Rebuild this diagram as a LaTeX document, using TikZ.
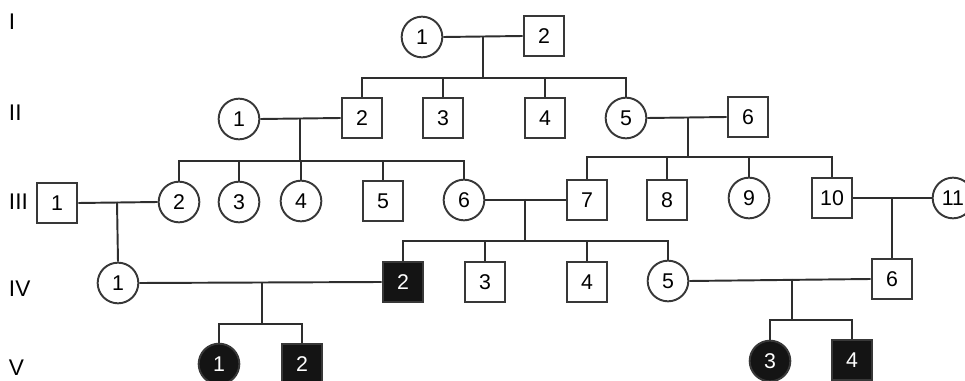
\documentclass[tikz,border=0pt]{standalone}
\usepackage{fontspec}
\setmainfont{Liberation Sans}
\begin{document}
\begin{tikzpicture}[x=0.75pt,y=-0.75pt,
  line width=1.45pt,
  lnk/.style={draw=black!82},
  fem/.style={circle,draw=black!78,fill=white,minimum size=30.5pt,inner sep=0pt,font=\fontsize{16}{18}\selectfont},
  mal/.style={rectangle,draw=black!78,fill=white,minimum size=30.5pt,inner sep=0pt,font=\fontsize{16}{18}\selectfont},
  affected/.style={fill=black!92,text=white},
  gen/.style={anchor=west,inner sep=0pt,font=\fontsize{17}{19}\selectfont}]
\useasboundingbox (0,0) rectangle (965,381);
\clip (0,0) rectangle (965,381);
% generation labels
\node[gen] (gI) at (8,22) {I};
\node[gen] (gII) at (8,113) {II};
\node[gen] (gIII) at (8,202) {III};
\node[gen] (gIV) at (8,289) {IV};
\node[gen] (gV) at (8,368) {V};
% coordinates of descent lines
\coordinate (m1) at (483,36);  \coordinate (d1) at (483,78);
\coordinate (m2) at (300,119); \coordinate (d2) at (300,161);
\coordinate (m3) at (688,117); \coordinate (d3) at (688,157);
\coordinate (m4) at (117,202);
\coordinate (m5) at (525,199); \coordinate (d5) at (525,241);
\coordinate (m6) at (892,198);
\coordinate (m7) at (262,283); \coordinate (d7) at (262,324);
\coordinate (m8) at (792,279); \coordinate (d8) at (792,320);
% nodes
\node[fem] (I1) at (422,37) {1};
\node[mal] (I2) at (544,36) {2};
\node[fem] (II1) at (239,119) {1};
\node[mal] (II2) at (362,118) {2};
\node[mal] (II3) at (443,118) {3};
\node[mal] (II4) at (545,118) {4};
\node[fem] (II5) at (626,118) {5};
\node[mal] (II6) at (748,117) {6};
\node[mal] (III1) at (57,203) {1};
\node[fem] (III2) at (179,202) {2};
\node[fem] (III3) at (239,202) {3};
\node[fem] (III4) at (301,201) {4};
\node[mal] (III5) at (383,201) {5};
\node[fem] (III6) at (464,200) {6};
\node[mal] (III7) at (587,200) {7};
\node[mal] (III8) at (667,200) {8};
\node[fem] (III9) at (749,198) {9};
\node[mal] (III10) at (832,198) {10};
\node[fem] (III11) at (953,198) {11};
\node[fem] (IV1) at (118,283) {1};
\node[mal,affected] (IV2) at (403,282) {2};
\node[mal] (IV3) at (485,282) {3};
\node[mal] (IV4) at (587,282) {4};
\node[fem] (IV5) at (668,281) {5};
\node[mal] (IV6) at (892,279) {6};
\node[fem,affected] (V1) at (219,364) {1};
\node[mal,affected] (V2) at (302,364) {2};
\node[fem,affected] (V3) at (770,361) {3};
\node[mal,affected] (V4) at (852,360) {4};
% connectors
\begin{scope}[lnk]
% I
\draw (I1.east) -- (I2.west);
\draw (m1) -- (d1);
\draw (II2.north) |- (d1) -| (II5.north);
\draw (II3.north) -- (II3.north |- d1);
\draw (II4.north) -- (II4.north |- d1);
% II-1 x II-2
\draw (II1.east) -- (II2.west);
\draw (m2) -- (d2);
\draw (III2.north) |- (d2) -| (III6.north);
\draw (III3.north) -- (III3.north |- d2);
\draw (III4.north) -- (III4.north |- d2);
\draw (III5.north) -- (III5.north |- d2);
% II-5 x II-6
\draw (II5.east) -- (II6.west);
\draw (m3) -- (d3);
\draw (III7.north) |- (d3) -| (III10.north);
\draw (III8.north) -- (III8.north |- d3);
\draw (III9.north) -- (III9.north |- d3);
% III-1 x III-2
\draw (III1.east) -- (III2.west);
\draw (m4) -- (IV1.north);
% III-6 x III-7
\draw (III6.east) -- (III7.west);
\draw (m5) -- (d5);
\draw (IV2.north) |- (d5) -| (IV5.north);
\draw (IV3.north) -- (IV3.north |- d5);
\draw (IV4.north) -- (IV4.north |- d5);
% III-10 x III-11
\draw (III10.east) -- (III11.west);
\draw (m6) -- (IV6.north);
% IV-1 x IV-2
\draw (IV1.east) -- (IV2.west);
\draw (m7) -- (d7);
\draw (V1.north) |- (d7) -| (V2.north);
% IV-5 x IV-6
\draw (IV5.east) -- (IV6.west);
\draw (m8) -- (d8);
\draw (V3.north) |- (d8) -| (V4.north);
\end{scope}
\end{tikzpicture}
\end{document}
